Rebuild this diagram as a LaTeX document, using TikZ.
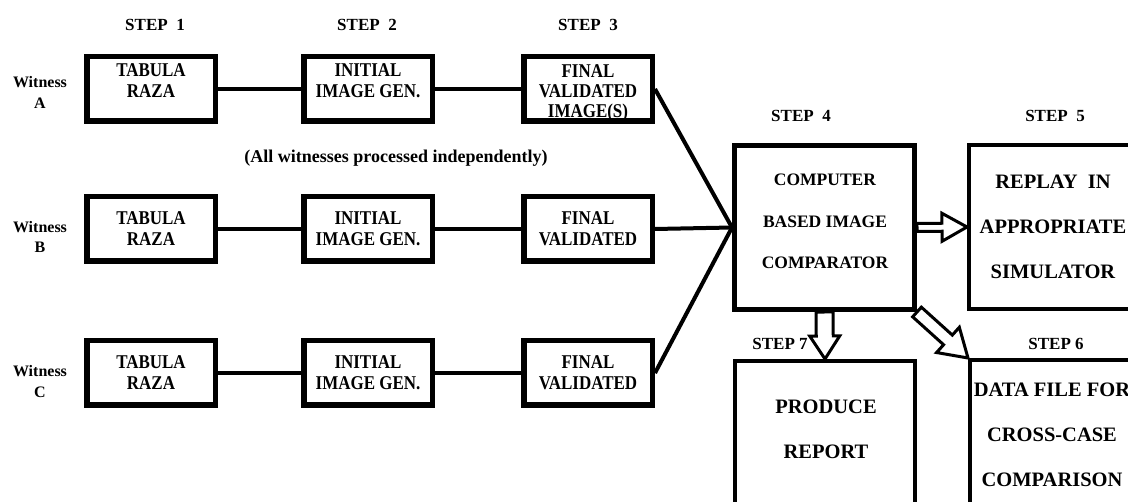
\documentclass[tikz,border=0pt]{standalone}
\usepackage{fontspec}
\setmainfont{Liberation Serif}
\newfontfamily\condfam{Liberation Serif}[FakeStretch=0.87]
\usetikzlibrary{calc,backgrounds}
\newcommand{\boxfont}{\condfam\fontsize{19.5}{21}\selectfont\bfseries}
\newcommand{\witfont}{\fontsize{16}{20.5}\selectfont\bfseries}
\newcommand{\stepfont}{\fontsize{17}{20}\selectfont\bfseries}
\newcommand{\notefont}{\fontsize{18}{20}\selectfont\bfseries}
\newcommand{\cfont}{\fontsize{17.5}{41.5}\selectfont\bfseries}
\newcommand{\dfont}{\fontsize{20.5}{45}\selectfont\bfseries}
\newcommand{\blkarrow}[5]{%
  \coordinate (ba-s) at (#1);
  \coordinate (ba-t) at (#2);
  \coordinate (ba-b) at ($(ba-t)!#5!(ba-s)$);
  \draw[barrow] ($(ba-s)!#3!90:(ba-t)$) -- ($(ba-b)!#3!-90:(ba-s)$) -- ($(ba-b)!#4!-90:(ba-s)$) -- (ba-t) -- ($(ba-b)!#4!90:(ba-s)$) -- ($(ba-b)!#3!90:(ba-s)$) -- ($(ba-s)!#3!-90:(ba-t)$) -- cycle;}
\begin{document}
\begin{tikzpicture}[x=1pt,y=-1pt,
  lbox/.style={draw, line width=5.5pt, fill=white, minimum width=128.5pt, minimum height=64.5pt, inner sep=0pt, align=center, font=\boxfont},
  txt/.style={inner sep=0pt, align=center},
  wit/.style={inner sep=0pt, align=center, font=\witfont},
  steplbl/.style={inner sep=0pt, font=\stepfont},
  conn/.style={line width=4pt},
  barrow/.style={draw, fill=white, line width=3pt, line join=miter},
  bigbox/.style={draw, line width=4pt, fill=white, inner sep=0pt}
]
\useasboundingbox (0,0) rectangle (1128,502);
\clip (0,0) rectangle (1128,502);

% step labels
\node[steplbl] (s1) at (155,25) {STEP\ \ 1};
\node[steplbl] (s2) at (367,25) {STEP\ \ 2};
\node[steplbl] (s3) at (588,25) {STEP\ \ 3};
\node[steplbl] (s4) at (801,116) {STEP\ \ 4};
\node[steplbl] (s5) at (1055,116) {STEP\ \ 5};
\node[steplbl] (s7) at (780,344) {STEP 7};
\node[steplbl] (s6) at (1056,344) {STEP 6};

% witnesses
\node[wit] (wa) at (40,92.5) {Witness\\A};
\node[wit] (wb) at (40,237) {Witness\\B};
\node[wit] (wc) at (40,381.5) {Witness\\C};

% row A
\node[lbox] (a1) at (151,89) {};
\node[txt, font=\boxfont] (a1t) at (151,81) {TABULA\\RAZA};
\node[lbox] (a2) at (368,89) {};
\node[txt, font=\boxfont] (a2t) at (368,81) {INITIAL\\IMAGE GEN.};
\node[lbox] (a3) at (588,89) {};
\node[txt, font=\condfam\fontsize{19.5}{20}\selectfont\bfseries] (a3t) at (588,93) {FINAL\\VALIDATED\\IMAGE(S)};

\node[txt, font=\notefont] (note) at (396,158) {(All witnesses processed independently)};

% row B
\node[lbox] (b1) at (151,229) {TABULA\\RAZA};
\node[lbox] (b2) at (368,229) {INITIAL\\IMAGE GEN.};
\node[lbox] (b3) at (588,229) {FINAL\\VALIDATED};

% row C
\node[lbox] (c1) at (151,373) {TABULA\\RAZA};
\node[lbox] (c2) at (368,373) {INITIAL\\IMAGE GEN.};
\node[lbox] (c3) at (588,373) {FINAL\\VALIDATED};

% right part
\node[draw, line width=5pt, fill=white, minimum width=180pt, minimum height=164pt, inner sep=0pt] (k4) at (824.5,227.5) {};
\node[txt, font=\cfont] (k4t) at (825,221.5) {COMPUTER\\BASED IMAGE\\COMPARATOR};
\node[bigbox, minimum width=169pt, minimum height=164pt] (k5) at (1053.5,227) {};
\node[txt, font=\dfont] (k5t) at (1053,227) {REPLAY\ \ IN\\APPROPRIATE\\SIMULATOR};
\node[bigbox, minimum width=164pt, minimum height=150pt] (k6) at (1052,435) {};
\node[txt, font=\dfont] (k6t) at (1052,435) {DATA FILE FOR\\CROSS-CASE\\COMPARISON};
\node[bigbox, minimum width=180pt, minimum height=197pt] (k7) at (825,459.5) {};
\node[txt, font=\dfont] (k7t) at (826,429.5) {PRODUCE\\REPORT};

% connectors
\draw[conn] (a1) -- (a2);
\draw[conn] (a2) -- (a3);
\draw[conn] (b1) -- (b2);
\draw[conn] (b2) -- (b3);
\draw[conn] (c1) -- (c2);
\draw[conn] (c2) -- (c3);
\draw[conn] (a3.east) -- (k4.west);
\draw[conn] (b3.east) -- (k4.west);
\draw[conn] (c3.east) -- (k4.west);

\begin{pgfonlayer}{background}
\blkarrow{k4.east}{k5.west}{4pt}{14pt}{25pt}
\blkarrow{k4.south}{k7.north}{8.5pt}{15pt}{23pt}
\blkarrow{k4.south east}{k6.north west}{6.5pt}{17pt}{27pt}
\end{pgfonlayer}
\end{tikzpicture}
\end{document}
